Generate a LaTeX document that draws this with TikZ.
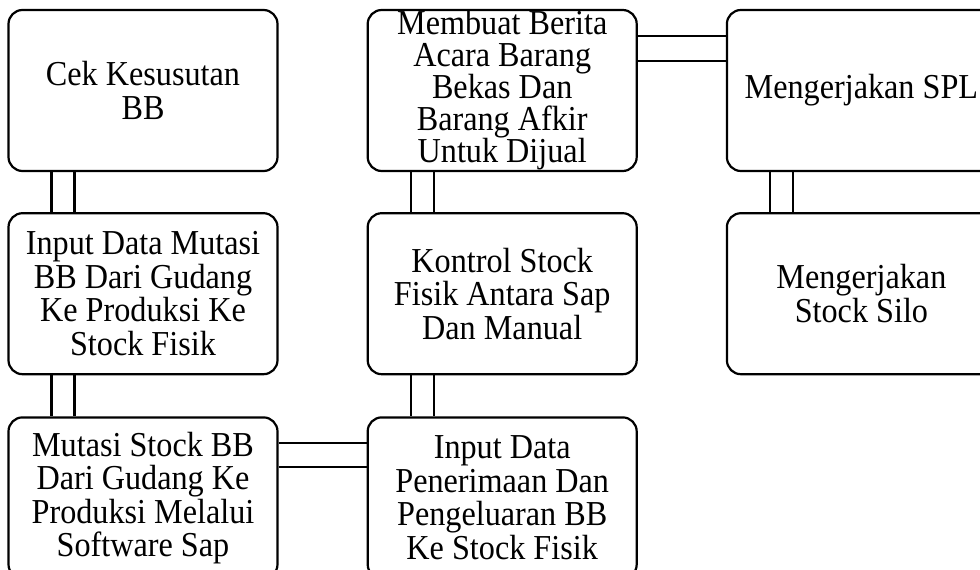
\documentclass[tikz,border=0pt]{standalone}
\usepackage{fontspec}
\setmainfont{Liberation Serif}[FakeStretch=0.92]
\usetikzlibrary{positioning}
\tikzset{every node/.style={align=center},
         box/.style={ % Sets the properties for each activity box
           draw, line width=2.2pt,
           rounded corners=14pt,
           minimum width=269pt, minimum height=161pt,
           inner sep=0pt,
           font=\fontsize{35}{33.5}\selectfont},
         link/.style={line width=2.2pt}} % the double connectors
\begin{document}
\begin{tikzpicture}[x=1pt, y=-1pt]
  \clip (0,0) rectangle (980,570);

  \node [box] at (143,90.5) (cek) {Cek Kesusutan\\BB};
  \node [box, below=40pt of cek] (inputmutasi) {Input Data Mutasi\\BB Dari Gudang\\Ke Produksi Ke\\Stock Fisik};
  \node [box, below=41pt of inputmutasi] (mutasisap) {Mutasi Stock BB\\Dari Gudang Ke\\Produksi Melalui\\Software Sap};

  % text runs onto the border here, as in the original
  \node [box, inner ysep=-8pt, font=\fontsize{35}{32}\selectfont, right=88pt of cek] (berita) {Membuat Berita\\Acara Barang\\Bekas Dan\\Barang Afkir\\Untuk Dijual};
  \node [box, below=40pt of berita] (kontrol) {Kontrol Stock\\Fisik Antara Sap\\Dan Manual};
  \node [box, below=41pt of kontrol] (inputterima) {Input Data\\Penerimaan Dan\\Pengeluaran BB\\Ke Stock Fisik};

  \node [box, right=88pt of berita] (spl) {Mengerjakan SPL};
  \node [box, below=40pt of spl] (silo) {Mengerjakan\\Stock Silo};

  % vertical links
  \foreach \a/\b in {cek/inputmutasi, inputmutasi/mutasisap, berita/kontrol, kontrol/inputterima, spl/silo}{
    \draw [link] ([xshift=44pt]\a.south west) -- ([xshift=44pt]\b.north west);
    \draw [link] ([xshift=67pt]\a.south west) -- ([xshift=67pt]\b.north west);
  }

  % horizontal links
  \draw [link] ([yshift=-27pt]berita.north east) -- ([yshift=-27pt]spl.north west);
  \draw [link] ([yshift=-52pt]berita.north east) -- ([yshift=-52pt]spl.north west);
  \draw [link] ([yshift=-27pt]mutasisap.north east) -- ([yshift=-27pt]inputterima.north west);
  \draw [link] ([yshift=-51pt]mutasisap.north east) -- ([yshift=-51pt]inputterima.north west);
\end{tikzpicture}
\end{document}
